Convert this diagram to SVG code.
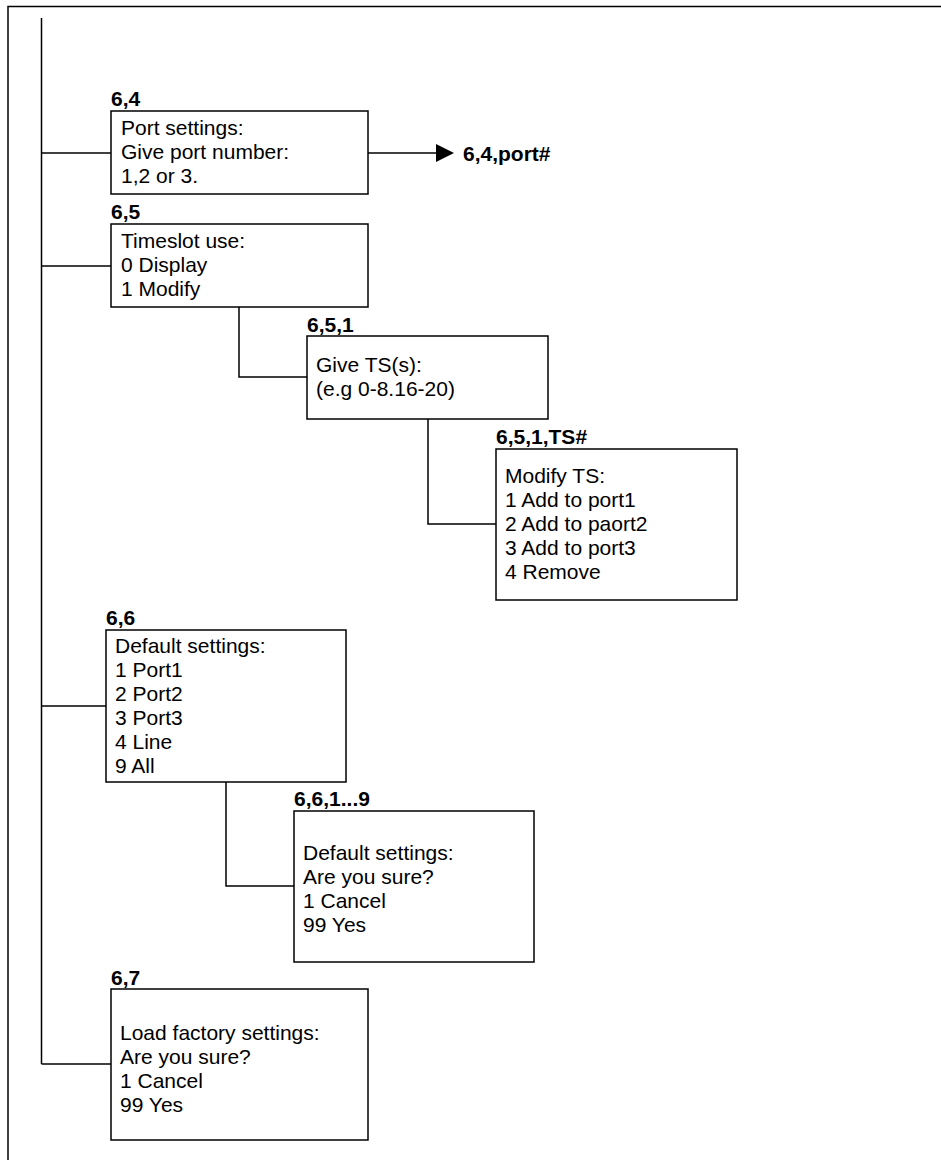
<svg xmlns="http://www.w3.org/2000/svg" width="941" height="1160" viewBox="0 0 941 1160">
<style>
.box{fill:#fff;stroke:#000;stroke-width:1.5}
.ln{fill:none;stroke:#000;stroke-width:1.5}
.t{font-family:"Liberation Sans",Arial,sans-serif;font-size:21px;fill:#000}
.b{font-family:"Liberation Sans",Arial,sans-serif;font-size:21px;font-weight:bold;fill:#000}
</style>
<defs>
<marker id="arr" markerWidth="18" markerHeight="18" refX="0" refY="9" orient="auto" markerUnits="userSpaceOnUse">
<path d="M0,0 L18,9 L0,18 Z" fill="#000"/>
</marker>
</defs>
<rect width="941" height="1160" fill="#fff"/>
<g id="frame">
<path class="ln" d="M8,1160 V6.5 H941"/>
</g>
<g id="connectors">
<path class="ln" d="M41.5,18 V1064"/>
<path class="ln" d="M41.5,153 H111"/>
<path class="ln" d="M41.5,266 H111"/>
<path class="ln" d="M41.5,706 H106"/>
<path class="ln" d="M41.5,1064 H111"/>
<path class="ln" d="M239,307 V377 H307"/>
<path class="ln" d="M428,419 V524 H496"/>
<path class="ln" d="M226,782 V886 H294"/>
<path class="ln" d="M368,153 H436" marker-end="url(#arr)"/>
</g>
<g id="n64">
<text class="b" x="111" y="106">6,4</text>
<rect class="box" x="111" y="111" width="257" height="83"/>
<text class="t" x="121" y="135">Port settings:</text>
<text class="t" x="121" y="159">Give port number:</text>
<text class="t" x="121" y="183">1,2 or 3.</text>
</g>
<g id="n64port">
<text class="b" x="463" y="161">6,4,port#</text>
</g>
<g id="n65">
<text class="b" x="111" y="219">6,5</text>
<rect class="box" x="111" y="224" width="257" height="83"/>
<text class="t" x="121" y="248">Timeslot use:</text>
<text class="t" x="121" y="272">0 Display</text>
<text class="t" x="121" y="296">1 Modify</text>
</g>
<g id="n651">
<text class="b" x="307" y="332">6,5,1</text>
<rect class="box" x="307" y="336" width="241" height="83"/>
<text class="t" x="316" y="372">Give TS(s):</text>
<text class="t" x="316" y="396">(e.g 0-8.16-20)</text>
</g>
<g id="n651ts">
<text class="b" x="496" y="444">6,5,1,TS#</text>
<rect class="box" x="496" y="449" width="241" height="151"/>
<text class="t" x="505" y="483">Modify TS:</text>
<text class="t" x="505" y="507">1 Add to port1</text>
<text class="t" x="505" y="531">2 Add to paort2</text>
<text class="t" x="505" y="555">3 Add to port3</text>
<text class="t" x="505" y="579">4 Remove</text>
</g>
<g id="n66">
<text class="b" x="106" y="625">6,6</text>
<rect class="box" x="106" y="630" width="240" height="152"/>
<text class="t" x="115" y="653">Default settings:</text>
<text class="t" x="115" y="677">1 Port1</text>
<text class="t" x="115" y="701">2 Port2</text>
<text class="t" x="115" y="725">3 Port3</text>
<text class="t" x="115" y="749">4 Line</text>
<text class="t" x="115" y="773">9 All</text>
</g>
<g id="n661">
<text class="b" x="294" y="806">6,6,1...9</text>
<rect class="box" x="294" y="811" width="240" height="151"/>
<text class="t" x="303" y="860">Default settings:</text>
<text class="t" x="303" y="884">Are you sure?</text>
<text class="t" x="303" y="908">1 Cancel</text>
<text class="t" x="303" y="932">99 Yes</text>
</g>
<g id="n67">
<text class="b" x="111" y="985">6,7</text>
<rect class="box" x="111" y="989" width="257" height="151"/>
<text class="t" x="120" y="1040">Load factory settings:</text>
<text class="t" x="120" y="1064">Are you sure?</text>
<text class="t" x="120" y="1088">1 Cancel</text>
<text class="t" x="120" y="1112">99 Yes</text>
</g>
</svg>
